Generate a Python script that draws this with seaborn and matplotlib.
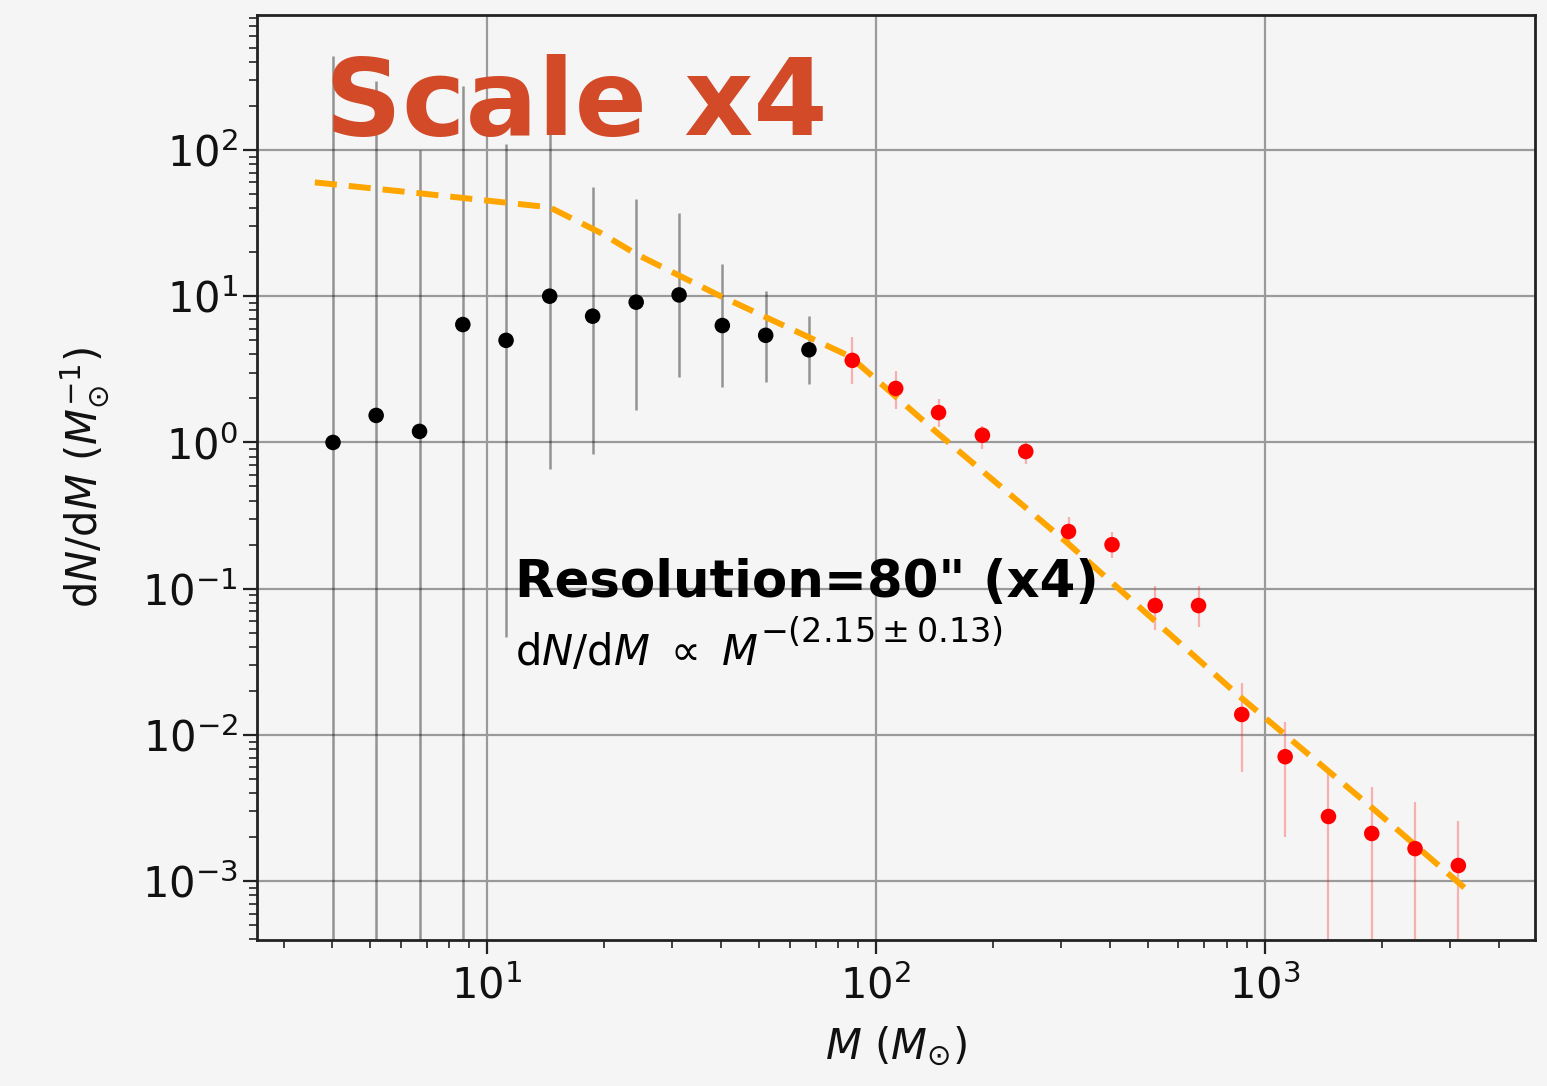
import numpy as np
import pandas as pd
import matplotlib
matplotlib.use("Agg")
import matplotlib.pyplot as plt
import seaborn as sns

# ---- data ----
mass = [4.02, 5.19, 6.71, 8.67, 11.2, 14.5, 18.7, 24.2, 31.2, 40.3, 52.1, 67.3,
        87.0, 112.5, 145, 188, 243, 313, 405, 523, 676, 873, 1129, 1459, 1885, 2436, 3148]
dndm = [1.0, 1.53, 1.19, 6.4, 4.99, 10.0, 7.3, 9.1, 10.2, 6.3, 5.4, 4.3,
        3.64, 2.34, 1.6, 1.12, 0.867, 0.246, 0.2, 0.0767, 0.0767, 0.0138, 0.0071,
        0.00277, 0.00212, 0.00167, 0.00128]
upper = [437, 295, 100, 272, 109, 132, 56, 46, 37, 16.5, 10.8, 7.3,
         5.3, 3.06, 1.97, 1.29, 1.0, 0.31, 0.246, 0.104, 0.104, 0.0228, 0.0123,
         0.0054, 0.0044, 0.0035, 0.0026]
lower = [0, 0, 0, 0, 0.047, 0.66, 0.83, 1.66, 2.8, 2.4, 2.57, 2.5,
         2.5, 1.68, 1.28, 0.9, 0.71, 0.19, 0.163, 0.0525, 0.055, 0.0056, 0.002,
         0, 0, 0, 0]
n_black = 12  # first 12 bins are black, the rest red

fit_mass = [3.61, 6.73, 14.5, 19.5, 24.3, 39.0, 85.7, 143.5, 310, 863, 1885, 3305]
fit_dndm = [60.0, 50.5, 40.5, 27.3, 19.3, 10.3, 3.88, 1.17, 0.207, 0.0183, 0.00319, 0.000877]

xticks = [10, 100, 1000]
yticks = [1e-3, 1e-2, 1e-1, 1e0, 1e1, 1e2]

df = pd.DataFrame({"M": mass, "dNdM": dndm, "up": upper, "lo": lower})
df["group"] = ["black"] * n_black + ["red"] * (len(mass) - n_black)
fit = pd.DataFrame({"M": fit_mass, "dNdM": fit_dndm})

bg = "#f5f5f5"
sns.set_theme(style="whitegrid")
plt.rcParams["font.family"] = ["DejaVu Sans"]
plt.rcParams["mathtext.fontset"] = "dejavusans"

fig = plt.figure(figsize=(15.47, 10.86), dpi=100, facecolor=bg)
ax = fig.add_axes([0.166, 0.1344, 0.826, 0.8518])
ax.set_facecolor(bg)
ax.set_xscale("log")
ax.set_yscale("log")

# error bars
for grp, col, alpha, lw in [("black", "black", 0.4, 1.8), ("red", "red", 0.28, 1.6)]:
    d = df[df.group == grp]
    yerr = np.vstack([d.dNdM - d.lo, d.up - d.dNdM])
    ax.errorbar(d.M, d.dNdM, yerr=yerr, fmt="none", ecolor=col, alpha=alpha,
                elinewidth=lw, capsize=0, zorder=2)

# fit line
sns.lineplot(data=fit, x="M", y="dNdM", ax=ax, color="orange", lw=4.3,
             dashes=False, zorder=3, estimator=None, sort=False)
ax.lines[-1].set_dashes((3.7, 2.0))

# points
sns.scatterplot(data=df, x="M", y="dNdM", hue="group",
                palette={"black": "black", "red": "red"}, s=125,
                edgecolor="none", ax=ax, legend=False, zorder=4)

ax.set_xlim(2.56, 4945)
ax.set_ylim(3.96e-4, 837)
ax.set_xticks(xticks)
ax.set_yticks(yticks)

ax.grid(True, which="major", color="#9a9a9a", lw=1.6)
ax.grid(False, which="minor")
for s in ax.spines.values():
    s.set_visible(True)
    s.set_color("#222222")
    s.set_linewidth(2.0)

ax.tick_params(which="major", direction="out", length=10, width=1.6, colors="#222222",
               labelsize=30, labelcolor="#111111", bottom=True, left=True, top=False, right=False)
ax.tick_params(which="minor", direction="out", length=6, width=1.2, colors="#222222",
               bottom=True, left=True, top=False, right=False)
ax.tick_params(axis="x", pad=8)

ax.set_xlabel(r"$M\ (M_{\odot})$", fontsize=30, color="#111111", labelpad=12)
ax.set_ylabel(r"d$N$/d$M$ $(M_{\odot}^{-1})$", fontsize=30, color="#111111", labelpad=22)

ax.text(0.202, 0.371, "Resolution=80\" (x4)", transform=ax.transAxes,
        fontsize=37, fontweight="bold", color="black", va="baseline", ha="left", zorder=6)
ax.text(0.202, 0.297, r"d$N$/d$M$ $\propto$ $M$", transform=ax.transAxes,
        fontsize=30, color="black", va="baseline", ha="left", zorder=6)
ax.text(0.394, 0.322, r"$-(2.15\pm0.13)$", transform=ax.transAxes,
        fontsize=24, color="black", va="baseline", ha="left", zorder=6)

fig.text(0.210, 0.876, "Scale x4", fontsize=77, fontweight="bold", color="#d24a28",
         va="baseline", ha="left", zorder=10)

fig.savefig("out.png", dpi=100, facecolor=bg)
